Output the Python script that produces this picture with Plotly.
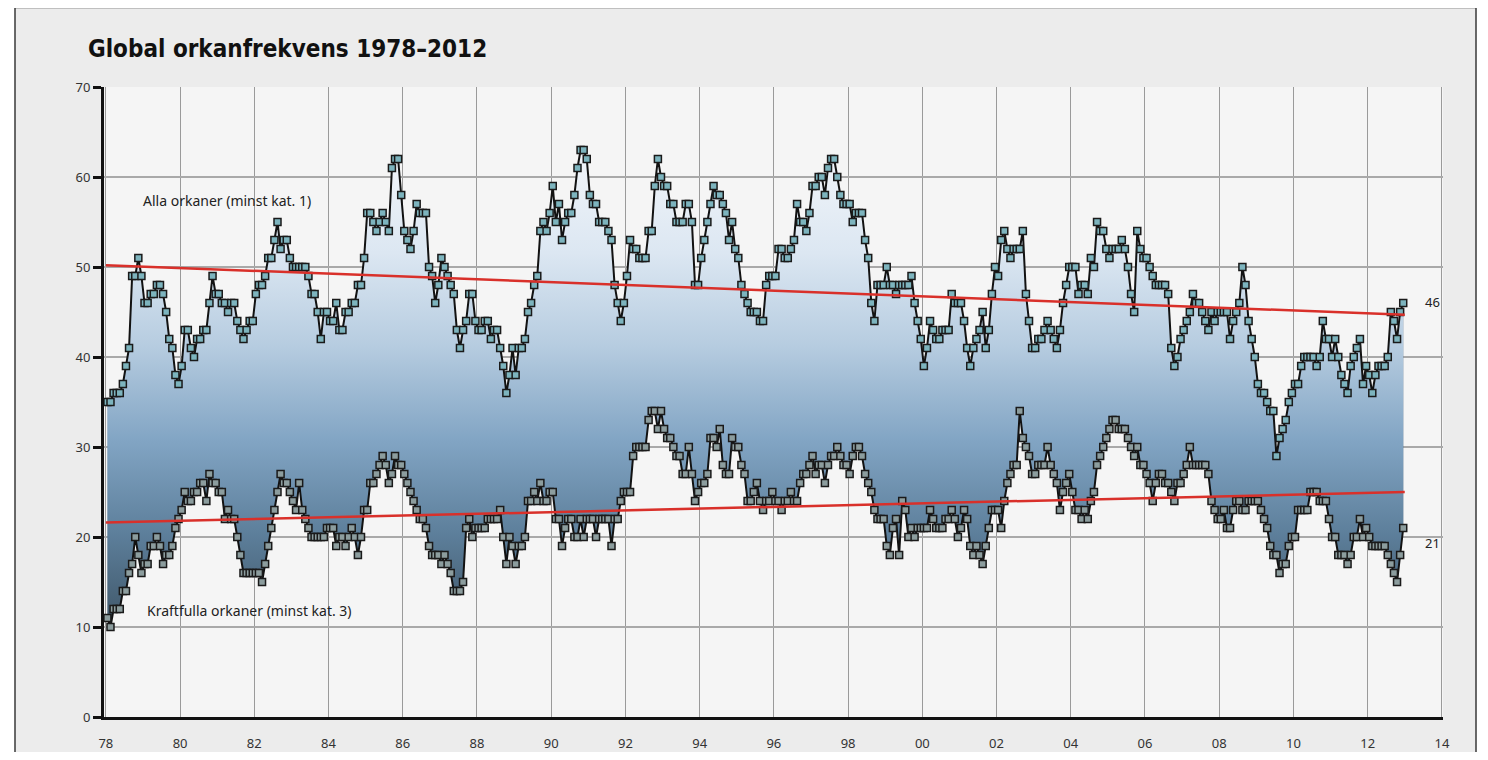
import numpy as np
import plotly.graph_objects as go

# ---------------- data (12-month running counts, monthly, Jan 1978 - Dec 2012) ----------------
start_year = 1978

alla_orkaner = [
    35,35,36,36,36,37,39,41,49,49,51,49,   # 1978
    46,46,47,47,48,48,47,45,42,41,38,37,   # 1979
    39,43,43,41,40,42,42,43,43,46,49,47,   # 1980
    47,46,46,45,46,46,44,43,42,43,44,44,   # 1981
    47,48,48,49,51,51,53,55,52,53,53,51,   # 1982
    50,50,50,50,50,49,47,47,45,42,45,45,   # 1983
    44,44,46,43,43,45,45,46,46,48,48,51,   # 1984
    56,56,55,54,55,56,55,54,61,62,62,58,   # 1985
    54,53,52,54,57,56,56,56,50,49,46,48,   # 1986
    51,50,49,48,47,43,41,43,44,47,47,44,   # 1987
    43,43,44,44,42,43,43,41,39,36,38,41,   # 1988
    38,41,41,42,45,46,48,49,54,55,54,56,   # 1989
    59,55,57,53,55,56,56,58,61,63,63,62,   # 1990
    58,57,57,55,55,55,54,53,48,46,44,46,   # 1991
    49,53,52,52,51,51,51,54,54,59,62,60,   # 1992
    59,59,57,57,55,55,55,57,57,55,48,48,   # 1993
    51,53,55,57,59,58,58,57,56,53,55,52,   # 1994
    51,48,47,46,45,45,45,44,44,48,49,49,   # 1995
    49,52,52,51,51,52,53,57,55,55,54,56,   # 1996
    59,59,60,60,58,61,62,62,60,58,57,57,   # 1997
    57,55,56,56,56,53,51,46,44,48,48,48,   # 1998
    50,48,48,47,48,48,48,48,49,46,44,42,   # 1999
    39,41,44,43,42,42,43,43,43,47,46,46,   # 2000
    46,44,41,39,41,42,43,45,41,43,47,50,   # 2001
    49,53,54,52,51,52,52,52,54,47,44,41,   # 2002
    41,42,42,43,44,43,42,41,43,46,48,50,   # 2003
    50,50,47,48,48,47,51,50,55,54,54,52,   # 2004
    51,52,52,52,53,52,50,47,45,54,52,51,   # 2005
    51,50,49,48,48,48,48,47,41,39,40,42,   # 2006
    43,44,45,47,46,46,45,44,43,45,44,45,   # 2007
    45,45,45,42,44,45,46,50,48,44,42,40,   # 2008
    37,36,36,35,34,34,29,31,32,33,35,36,   # 2009
    37,37,39,40,40,40,40,39,40,44,42,42,   # 2010
    40,42,40,38,37,36,39,40,41,42,37,39,   # 2011
    38,36,38,39,39,39,40,45,44,42,45,46,   # 2012
]

kraftfulla_orkaner = [
    11,10,12,12,12,14,14,16,17,20,18,16,   # 1978
    17,17,19,19,20,19,17,18,18,19,21,22,   # 1979
    23,25,24,24,25,25,26,26,24,27,26,26,   # 1980
    25,25,22,23,22,22,20,18,16,16,16,16,   # 1981
    16,16,15,17,19,21,23,25,27,26,26,25,   # 1982
    24,23,26,23,22,21,20,20,20,20,20,21,   # 1983
    21,21,19,20,20,19,20,21,20,18,20,23,   # 1984
    23,26,26,27,28,29,28,26,27,29,28,28,   # 1985
    27,26,25,24,23,22,22,21,19,18,18,18,   # 1986
    17,18,17,16,14,14,14,15,21,22,20,21,   # 1987
    21,21,21,22,22,22,22,23,20,17,20,19,   # 1988
    17,19,19,20,24,24,25,24,26,24,24,25,   # 1989
    25,22,22,19,21,22,22,20,20,22,20,22,   # 1990
    22,22,20,22,22,22,22,19,22,22,24,25,   # 1991
    25,25,29,30,30,30,30,33,34,34,32,34,   # 1992
    32,31,31,30,29,29,27,27,30,27,24,25,   # 1993
    26,26,27,31,31,30,32,28,27,27,31,30,   # 1994
    30,28,27,24,24,25,26,24,23,24,24,25,   # 1995
    24,24,23,24,24,25,24,24,26,27,27,28,   # 1996
    29,27,28,28,26,28,29,29,30,29,28,28,   # 1997
    27,29,30,30,29,27,26,25,23,22,22,22,   # 1998
    19,18,21,22,18,24,23,20,21,20,21,21,   # 1999
    21,21,23,22,21,21,21,22,22,23,22,20,   # 2000
    21,23,22,19,18,19,18,17,19,21,23,23,   # 2001
    23,21,24,26,27,28,28,34,31,30,29,27,   # 2002
    27,28,28,28,30,28,27,26,23,25,26,27,   # 2003
    25,23,23,22,23,22,24,25,28,29,30,31,   # 2004
    32,33,33,32,32,32,31,30,29,30,28,28,   # 2005
    27,26,24,26,27,27,26,26,25,24,26,26,   # 2006
    27,28,30,28,28,28,28,28,27,24,23,22,   # 2007
    22,23,21,21,23,24,24,23,23,24,24,24,   # 2008
    24,23,22,21,19,18,18,16,17,17,19,20,   # 2009
    20,23,23,23,23,25,25,25,24,24,24,22,   # 2010
    20,20,18,18,18,17,18,20,20,22,20,21,   # 2011
    20,19,19,19,19,19,18,17,16,15,18,21,   # 2012
]

# linear trends (end points)
trend_years = [1978.0, 2013.0]
trend_alla = [50.2, 44.7]
trend_kraft = [21.6, 25.0]

# axis ticks
x_tickvals = list(range(1978, 2015, 2))
x_ticktext = [f"{v % 100:02d}" for v in x_tickvals]
y_tickvals = [0, 10, 20, 30, 40, 50, 60, 70]

label_alla = "Alla orkaner (minst kat. 1)"
label_kraft = "Kraftfulla orkaner (minst kat. 3)"
title_text = "Global orkanfrekvens 1978–2012"

# ---------------- figure ----------------
# the page has an 8px body margin, so the figure is 16px smaller than the window
W, H = 1472, 744
ML, MR, MT, MB = 96, 37, 79, 35

top = np.array(alla_orkaner, dtype=float)
bot = np.array(kraftfulla_orkaner, dtype=float)
months = np.arange(len(top))
x = start_year + (months + 0.5) / 12.0

fig = go.Figure()

# lower boundary (invisible) for the fill
fig.add_trace(go.Scatter(x=x, y=bot, mode="lines", line=dict(width=0, color="rgba(0,0,0,0)"),
                         hoverinfo="skip", showlegend=False))
# gradient fill between the two series
fig.add_trace(go.Scatter(
    x=x, y=top, mode="lines", line=dict(width=0, color="rgba(0,0,0,0)"),
    fill="tonexty",
    fillgradient=dict(type="vertical", start=10, stop=62,
                      colorscale=[[0.0, "#3f5668"], [0.2, "#5d7f9b"], [0.4, "#82a5c4"],
                                  [0.6, "#b6cce0"], [0.8, "#dce7f2"], [1.0, "#f0f4f9"]]),
    hoverinfo="skip", showlegend=False))

# vertical stripes texture
fig.add_trace(go.Bar(x=x, base=bot, y=top - bot, width=1 / 12 * 0.4,
                     marker=dict(color="rgba(25,55,85,0.16)", line=dict(width=0)),
                     hoverinfo="skip", showlegend=False))

# series lines with square markers
fig.add_trace(go.Scatter(
    x=x, y=top, mode="lines+markers", name=label_alla,
    line=dict(color="#121212", width=2),
    marker=dict(symbol="square", size=7, color="#7db4be", line=dict(color="#1a1a1a", width=1.5)),
    showlegend=False))
fig.add_trace(go.Scatter(
    x=x, y=bot, mode="lines+markers", name=label_kraft,
    line=dict(color="#121212", width=2),
    marker=dict(symbol="square", size=7, color="#8c9d9e", line=dict(color="#1a1a1a", width=1.5)),
    showlegend=False))

# red trend lines
fig.add_trace(go.Scatter(x=trend_years, y=trend_alla, mode="lines",
                         line=dict(color="#d9302a", width=2.5), showlegend=False, hoverinfo="skip"))
fig.add_trace(go.Scatter(x=trend_years, y=trend_kraft, mode="lines",
                         line=dict(color="#d9302a", width=2.5), showlegend=False, hoverinfo="skip"))

text_font = dict(family="Noto Sans, Open Sans, sans-serif", size=14, color="#222222")
num_font = dict(family="Noto Sans, sans-serif", size=13, color="#222222")
annotations = [
    dict(x=1978.95, y=57.4, xref="x", yref="y", text=label_alla, showarrow=False,
         xanchor="left", yanchor="middle", font=text_font),
    dict(x=1979.06, y=11.8, xref="x", yref="y", text=label_kraft, showarrow=False,
         xanchor="left", yanchor="middle", font=text_font),
    dict(x=2013.5, y=top[-1] + 0.1, xref="x", yref="y", text=str(int(top[-1])), showarrow=False,
         xanchor="left", yanchor="middle", font=num_font),
    dict(x=2013.5, y=bot[-1] - 1.7, xref="x", yref="y", text=str(int(bot[-1])), showarrow=False,
         xanchor="left", yanchor="middle", font=num_font),
]

# outer frame (page-pixel positions converted to paper coords)
pw, ph = W - ML - MR, H - MT - MB
def px_x(p): return (p - 8 - ML) / pw
def px_y(p): return (H - MB - (p - 8)) / ph
shapes = [
    dict(type="rect", xref="paper", yref="paper",
         x0=px_x(15), x1=px_x(1476), y0=px_y(780), y1=px_y(7.5),
         line=dict(color="#3a3a3a", width=1.5), fillcolor="#ececec", layer="below"),
    dict(type="rect", xref="paper", yref="paper", x0=0, x1=1, y0=0, y1=1,
         line=dict(width=0), fillcolor="#f5f5f5", layer="below"),
]

fig.update_layout(
    width=W, height=H,
    margin=dict(l=ML, r=MR, t=MT, b=MB, pad=0, autoexpand=False),
    paper_bgcolor="#ffffff",
    plot_bgcolor="#f5f5f5",
    barmode="overlay",
    bargap=0,
    title=dict(text="<b>" + title_text + "</b>", xref="container", yref="container",
               x=80 / W, xanchor="left", y=1 - 41 / H, yanchor="middle",
               font=dict(family="Liberation Sans Narrow, DejaVu Sans Condensed, sans-serif",
                         size=24, color="#111111")),
    annotations=annotations,
    shapes=shapes,
    showlegend=False,
)

fig.update_xaxes(
    range=[1977.95, 2014.03],
    tickvals=x_tickvals, ticktext=x_ticktext,
    showgrid=True, gridcolor="#9a9a9a", gridwidth=1,
    showline=True, linecolor="#111111", linewidth=3,
    ticks="outside", ticklen=12, tickcolor="rgba(0,0,0,0)",
    tickfont=dict(family="Noto Sans, Open Sans, sans-serif", size=13, color="#333333"),
    zeroline=False, automargin=False,
)
fig.update_yaxes(
    range=[0, 70],
    tickvals=y_tickvals,
    showgrid=True, gridcolor="#a9a9a9", gridwidth=1.5,
    showline=True, linecolor="#111111", linewidth=3,
    ticks="outside", ticklen=8, tickwidth=3, tickcolor="#111111",
    tickfont=dict(family="Noto Sans, Open Sans, sans-serif", size=13, color="#333333"),
    zeroline=False, automargin=False,
)

fig.write_html("out.html")
